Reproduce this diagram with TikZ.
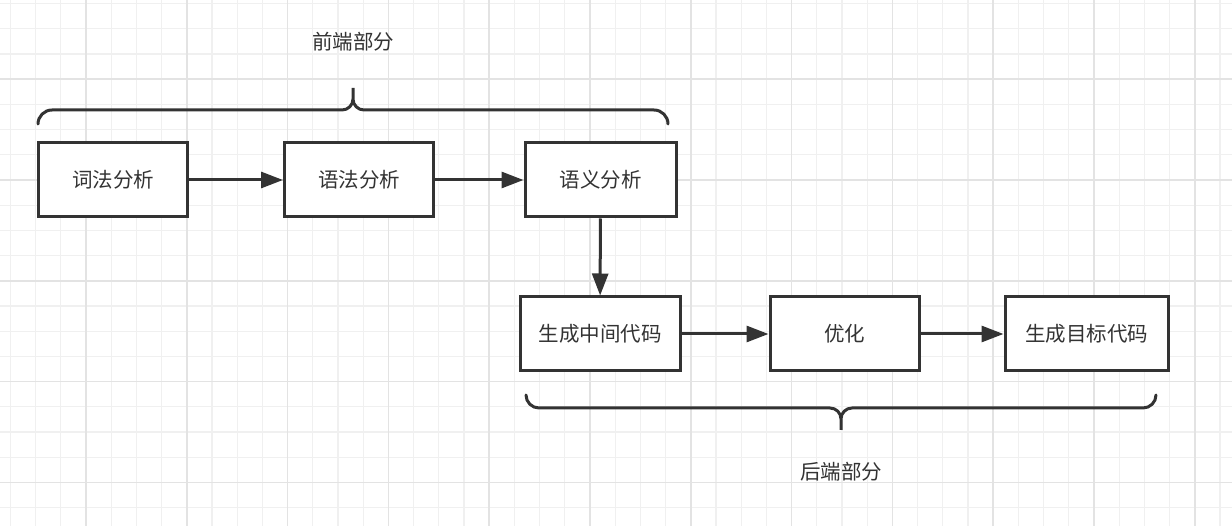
\documentclass[tikz,border=0pt]{standalone}
\usepackage{fontspec}
\newfontfamily\cjk{Noto Sans CJK SC}
\usetikzlibrary{arrows.meta}
\definecolor{ink}{HTML}{333333}
\definecolor{gridminor}{HTML}{F0F0F0}
\definecolor{gridmajor}{HTML}{E3E3E3}
\tikzset{
  stagebox/.style={draw=ink, line width=3pt, fill=white, minimum height=74pt, inner sep=0pt,
    font=\cjk\fontsize{20.5}{24}\selectfont, text=ink},
  flow/.style={draw=ink, line width=3pt, -{Triangle[length=22pt,width=16pt]}},
  bracepath/.style={draw=ink, line width=3pt, line cap=round},
  caption/.style={font=\cjk\fontsize{20.5}{24}\selectfont, text=ink, inner sep=0pt},
  gminor/.style={draw=gridminor, line width=1.2pt},
  gmajor/.style={draw=gridmajor, line width=1.6pt}
}
\begin{document}
\begin{tikzpicture}[x=1pt,y=-1pt]
\useasboundingbox (0,0) rectangle (1232,526);
\fill[white] (0,0) rectangle (1232,526);
% grid
\foreach \k in {0,...,48} \draw[gminor] ({10.4+25.2*\k},0) -- ({10.4+25.2*\k},526);
\foreach \k in {0,...,20} \draw[gminor] (0,{3.7+25.2*\k}) -- (1232,{3.7+25.2*\k});
\foreach \k in {3,7,...,47} \draw[gmajor] ({10.4+25.2*\k},0) -- ({10.4+25.2*\k},526);
\foreach \k in {3,7,...,19} \draw[gmajor] (0,{3.7+25.2*\k}) -- (1232,{3.7+25.2*\k});

% boxes
\node[stagebox, minimum width=149pt] (b1) at (113,180) {词法分析};
\node[stagebox, minimum width=149pt] (b2) at (359,180) {语法分析};
\node[stagebox, minimum width=151pt] (b3) at (600.5,180) {语义分析};
\node[stagebox, minimum width=160pt] (b4) at (600,334) {生成中间代码};
\node[stagebox, minimum width=149pt] (b5) at (844.5,334) {优化};
\node[stagebox, minimum width=163pt] (b6) at (1086.5,334) {生成目标代码};

% arrows
\draw[flow] (b1) -- (b2);
\draw[flow] (b2) -- (b3);
\draw[flow] (b3) -- (b4);
\draw[flow] (b4) -- (b5);
\draw[flow] (b5) -- (b6);

% top brace
\draw[bracepath] (38,124) arc[start angle=180,end angle=90,radius=14pt] -- (342,110)
  arc[start angle=270,end angle=360,radius=11pt] -- (353,88) -- (353,99)
  arc[start angle=180,end angle=270,radius=11pt] -- (654,110)
  arc[start angle=90,end angle=0,radius=14pt];
\node[caption] (fe) at (353,42) {前端部分};

% bottom brace
\draw[bracepath] (526,395) arc[start angle=180,end angle=270,radius=13pt] -- (830,408)
  arc[start angle=90,end angle=0,radius=11pt] -- (841,430) -- (841,419)
  arc[start angle=180,end angle=90,radius=11pt] -- (1143,408)
  arc[start angle=270,end angle=360,radius=13pt];
\node[caption] (be) at (841,472) {后端部分};
\end{tikzpicture}
\end{document}
